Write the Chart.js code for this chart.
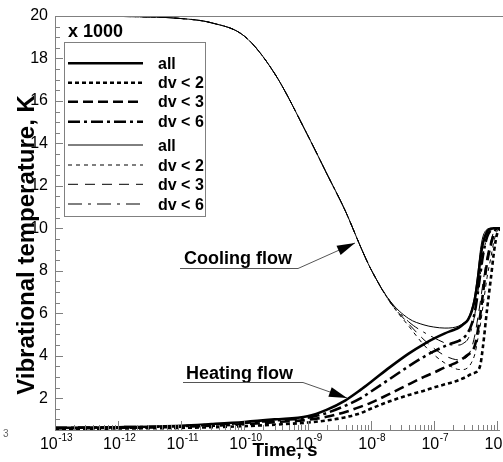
<!DOCTYPE html>
<html><head><meta charset="utf-8">
<script src="https://cdn.jsdelivr.net/npm/chart.js@4/dist/chart.umd.min.js"></script>
<style>html,body{margin:0;padding:0;background:#fff}#wrap{width:503px;height:462px;position:relative}</style>
</head><body><div id="wrap"><canvas id="c" width="503" height="462"></canvas></div>
<script>
// ---- data (temperature in units of 1000 K) ----
const times = [1e-13, 1e-12, 1e-11, 3e-11, 1e-10, 3e-10, 1e-9, 2e-9, 4e-9, 7e-9, 1e-8, 2e-8, 4e-8, 7e-8, 1e-7, 1.5e-7, 2e-7, 2.5e-7, 3e-7, 3.5e-7, 4e-7, 4.5e-7, 5e-7, 5.5e-7, 6e-7, 7e-7, 8e-7, 9e-7, 1e-6, 1.12e-6];

const heatAll = [0.6, 0.63, 0.7, 0.78, 0.88, 1.0, 1.15, 1.45, 1.9, 2.4, 2.75, 3.45, 4.1, 4.55, 4.8, 5.05, 5.2, 5.32, 5.5, 5.7, 6.1, 6.7, 7.6, 8.6, 9.3, 9.85, 9.98, 10, 10, 10];
const heatDv2 = [0.55, 0.57, 0.6, 0.63, 0.68, 0.75, 0.85, 0.95, 1.1, 1.3, 1.5, 1.85, 2.15, 2.35, 2.5, 2.65, 2.75, 2.85, 2.95, 3.05, 3.15, 3.2, 3.3, 3.6, 4.4, 6.2, 7.6, 8.9, 9.7, 10];
const heatDv3 = [0.58, 0.6, 0.65, 0.7, 0.77, 0.87, 0.98, 1.12, 1.35, 1.6, 1.78, 2.2, 2.65, 3.0, 3.2, 3.45, 3.6, 3.75, 3.9, 4.05, 4.2, 4.5, 5.2, 6.0, 6.9, 8.4, 9.2, 9.75, 10, 10];
const heatDv6 = [0.6, 0.63, 0.68, 0.75, 0.83, 0.95, 1.08, 1.3, 1.65, 2.0, 2.3, 2.9, 3.5, 3.95, 4.2, 4.45, 4.6, 4.7, 4.85, 5.1, 5.5, 6.1, 7.0, 7.9, 8.7, 9.6, 9.9, 10, 10, 10];

const coolAll = [20, 19.98, 19.88, 19.68, 19.05, 17.3, 14.4, 12.6, 10.8, 9.1, 8.1, 6.6, 5.75, 5.45, 5.35, 5.3, 5.32, 5.4, 5.55, 5.75, 6.2, 6.9, 7.9, 9.0, 9.6, 9.95, 10, 10, 10, 10];
const coolDv2 = [20, 19.98, 19.88, 19.68, 19.05, 17.3, 14.4, 12.6, 10.8, 9.1, 8.1, 6.55, 5.4, 4.5, 4.05, 3.65, 3.45, 3.35, 3.35, 3.45, 3.7, 4.1, 4.8, 5.5, 6.3, 7.7, 8.6, 9.4, 9.85, 10];
const coolDv3 = [20, 19.98, 19.88, 19.68, 19.05, 17.3, 14.4, 12.6, 10.8, 9.1, 8.1, 6.55, 5.5, 4.75, 4.35, 4.0, 3.85, 3.8, 3.85, 4.0, 4.4, 5.0, 5.8, 6.6, 7.4, 8.7, 9.4, 9.85, 10, 10];
const coolDv6 = [20, 19.98, 19.88, 19.68, 19.05, 17.3, 14.4, 12.6, 10.8, 9.1, 8.1, 6.6, 5.6, 5.1, 4.85, 4.6, 4.5, 4.5, 4.6, 4.8, 5.3, 6.0, 7.0, 7.9, 8.7, 9.6, 9.9, 10, 10, 10];

const seriesLabels = ['all', 'dv < 2', 'dv < 3', 'dv < 6', 'all', 'dv < 2', 'dv < 3', 'dv < 6'];
const xTickExponents = [-13, -12, -11, -10, -9, -8, -7, -6];
const yTickValues = [2, 4, 6, 8, 10, 12, 14, 16, 18, 20];
const xMin = 1e-13, xMax = 1.12e-6, yMin = 0.5, yMax = 20;

// ---- styles ----
const series = [heatAll, heatDv2, heatDv3, heatDv6, coolAll, coolDv2, coolDv3, coolDv6];
const widths = [2.6, 2.6, 2.6, 2.6, 1, 1, 1, 1];
const dashes = [[], [4, 3], [10, 5], [12, 4, 3, 4], [], [4, 4], [10, 7], [14, 6, 3, 6]];

const datasets = series.map((arr, i) => ({
  label: seriesLabels[i],
  data: times.map((t, k) => ({x: t, y: arr[k]})),
  borderColor: '#000',
  borderWidth: widths[i],
  borderDash: dashes[i],
  pointRadius: 0,
  fill: false,
  cubicInterpolationMode: 'monotone'
}));

const FONT = '"Liberation Sans", Arial, sans-serif';

function arrow(ctx, x0, y0, x1, y1, len, half) {
  ctx.strokeStyle = '#555'; ctx.lineWidth = 1;
  ctx.beginPath(); ctx.moveTo(x0, y0); ctx.lineTo(x1, y1); ctx.stroke();
  const ang = Math.atan2(y1 - y0, x1 - x0);
  const bx = x1 - len * Math.cos(ang), by = y1 - len * Math.sin(ang);
  ctx.fillStyle = '#000';
  ctx.beginPath();
  ctx.moveTo(x1, y1);
  ctx.lineTo(bx + half * Math.sin(ang), by - half * Math.cos(ang));
  ctx.lineTo(bx - half * Math.sin(ang), by + half * Math.cos(ang));
  ctx.closePath(); ctx.fill();
}

const deco = {
  id: 'deco',
  afterDraw(chart) {
    const ctx = chart.ctx, xs = chart.scales.x, ys = chart.scales.y, a = chart.chartArea;
    ctx.save();
    // frame
    ctx.strokeStyle = '#808080'; ctx.lineWidth = 1;
    ctx.beginPath();
    ctx.moveTo(a.left + 0.5, a.bottom); ctx.lineTo(a.left + 0.5, a.top + 0.5); ctx.lineTo(503, a.top + 0.5);
    ctx.moveTo(a.left, a.bottom + 0.5); ctx.lineTo(a.right, a.bottom + 0.5);
    ctx.stroke();
    // y ticks (inward)
    ctx.beginPath();
    for (let v = 1; v <= 40; v++) {
      const val = v * 0.5; if (val < yMin) continue;
      const y = Math.round(ys.getPixelForValue(val)) + 0.5;
      const major = yTickValues.includes(val);
      ctx.moveTo(a.left, y); ctx.lineTo(a.left + (major ? 8 : 5), y);
    }
    // x ticks (inward)
    for (const e of xTickExponents) {
      for (let m = 1; m <= 9; m++) {
        const t = m * Math.pow(10, e);
        if (t > xMax) break;
        const x = Math.round(xs.getPixelForValue(t)) + 0.5;
        ctx.moveTo(x, a.bottom); ctx.lineTo(x, a.bottom - (m === 1 ? 9 : 5));
      }
    }
    ctx.stroke();
    // y tick labels
    ctx.fillStyle = '#000'; ctx.font = '16px ' + FONT; ctx.textAlign = 'right'; ctx.textBaseline = 'middle';
    for (const v of yTickValues) ctx.fillText(String(v), 48, ys.getPixelForValue(v));
    // x tick labels
    ctx.textBaseline = 'alphabetic'; ctx.textAlign = 'left';
    for (const e of xTickExponents) {
      const x = xs.getPixelForValue(Math.pow(10, e));
      ctx.font = '16px ' + FONT; const w1 = ctx.measureText('10').width;
      ctx.font = '10px ' + FONT; const sup = String(e); const w2 = ctx.measureText(sup).width;
      const x0 = x - (w1 + w2) / 2 + 1;
      ctx.font = '16px ' + FONT; ctx.fillText('10', x0, 449);
      ctx.font = '10px ' + FONT; ctx.fillText(sup, x0 + w1 + 0.5, 441);
    }
    // stray fragment at left
    ctx.fillStyle = '#666'; ctx.font = '10px ' + FONT; ctx.fillText('3', 3, 437);
    // axis titles
    ctx.fillStyle = '#000';
    ctx.font = 'bold 19px ' + FONT; ctx.textAlign = 'center';
    ctx.fillText('Time, s', 285, 456);
    ctx.save(); ctx.translate(34, 245); ctx.rotate(-Math.PI / 2);
    ctx.font = 'bold 24px ' + FONT; ctx.fillText('Vibrational temperature, K', 0, 0);
    ctx.restore();
    // legend
    ctx.textAlign = 'left';
    ctx.font = 'bold 18px ' + FONT; ctx.fillText('x 1000', 68, 37);
    ctx.fillStyle = '#fff'; ctx.fillRect(64.5, 42.5, 141, 174);
    ctx.strokeStyle = '#808080'; ctx.lineWidth = 1; ctx.setLineDash([]);
    ctx.strokeRect(64.5, 42.5, 141, 174);
    const rows = [63.3, 82.7, 101.7, 121.7, 145, 165, 184.3, 204];
    chart.data.datasets.forEach((ds, i) => {
      const y = rows[i];
      ctx.strokeStyle = '#000'; ctx.lineWidth = ds.borderWidth; ctx.setLineDash(ds.borderDash);
      ctx.beginPath(); ctx.moveTo(68, y); ctx.lineTo(143, y); ctx.stroke();
      ctx.setLineDash([]);
      ctx.fillStyle = '#000'; ctx.font = 'bold 16px ' + FONT; ctx.fillText(ds.label, 158, y + 5.5);
    });
    // annotations
    ctx.setLineDash([]);
    ctx.fillStyle = '#000'; ctx.font = 'bold 18px ' + FONT;
    ctx.fillText('Cooling flow', 184, 264);
    ctx.strokeStyle = '#555'; ctx.lineWidth = 1;
    ctx.beginPath(); ctx.moveTo(180, 268.5); ctx.lineTo(298, 268.5); ctx.stroke();
    arrow(ctx, 298, 268.5, 355, 243, 18, 5);
    ctx.fillStyle = '#000'; ctx.font = 'bold 18px ' + FONT;
    ctx.fillText('Heating flow', 186, 379);
    ctx.beginPath(); ctx.moveTo(183, 382.5); ctx.lineTo(303, 382.5); ctx.stroke();
    arrow(ctx, 303, 382.5, 347, 398, 18, 5);
    ctx.restore();
  }
};

new Chart(document.getElementById('c'), {
  type: 'line',
  data: {datasets},
  options: {
    responsive: false,
    animation: false,
    layout: {padding: {left: 55, right: 3, top: 16, bottom: 32}},
    plugins: {legend: {display: false}, tooltip: {enabled: false}},
    scales: {
      x: {type: 'logarithmic', min: xMin, max: xMax, display: false},
      y: {type: 'linear', min: yMin, max: yMax, display: false}
    }
  },
  plugins: [deco]
});
</script></body></html>
